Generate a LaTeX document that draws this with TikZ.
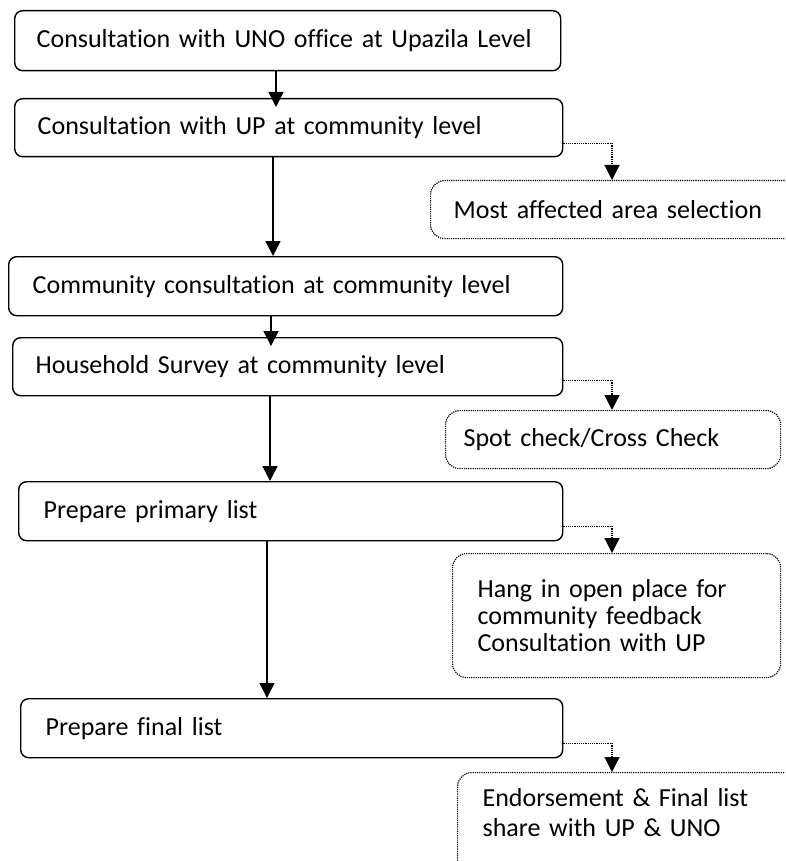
\documentclass[tikz,border=0pt]{standalone}
\usepackage{fontspec}
\setmainfont{Carlito}[Ligatures={NoCommon}]
\usetikzlibrary{calc,positioning,arrows.meta}

\begin{document}
\begin{tikzpicture}[x=1pt,y=-1pt]
\tikzstyle{stepbox}=[draw, line width=1.4pt, rounded corners=8pt, anchor=north west, align=left, inner xsep=23pt, font=\fontsize{26}{27}\selectfont]
\tikzstyle{notebox}=[draw, densely dotted, line width=1.2pt, rounded corners=14pt, anchor=north west, align=left, font=\fontsize{26}{27}\selectfont]
\tikzstyle{flow}=[line width=1.4pt, -{Triangle[length=15pt,width=15pt]}]
\tikzstyle{sideflow}=[densely dotted, line width=1.2pt, -{Triangle[length=15pt,width=15pt]}]
\useasboundingbox (0,0) rectangle (785,861);
\clip (0,0) rectangle (785,861);
% main steps
\node[stepbox, text width=502pt, inner xsep=22pt, minimum height=60pt] (uno) at (14,10) {Consultation with UNO office at Upazila Level};
\node[stepbox, text width=502pt, minimum height=58pt] (up) at (14,98) {Consultation with UP at community level};
\node[stepbox, text width=506pt, inner xsep=24pt, minimum height=59pt] (comm) at (8,256) {Community consultation at community level};
\node[stepbox, text width=504pt, minimum height=58pt] (survey) at (12,337) {Household Survey at community level};
\node[stepbox, text width=494pt, inner xsep=25pt, minimum height=59pt] (primary) at (18,481) {Prepare primary list};
\node[stepbox, text width=492pt, inner xsep=25pt, minimum height=59pt] (final) at (20,698) {Prepare final list};
% side notes
\node[notebox, text width=344pt, inner xsep=23pt, minimum height=58pt] (area) at (430,180) {Most affected area selection};
\node[notebox, text width=299pt, inner xsep=18pt, minimum height=58pt] (spot) at (445,410) {Spot check/Cross Check};
\node[notebox, text width=278pt, inner xsep=25pt, minimum height=124pt] (hang) at (452,553) {Hang in open place for\\community feedback\\Consultation with UP};
\node[notebox, text width=330pt, inner xsep=25pt, inner ysep=16pt, text depth=70pt] (endorse) at (457,772) {Endorsement \& Final list\\[3pt]share with UP \& UNO};
% arrows
\draw[flow, shorten >=-9pt] ($(uno.south west)+(262,0)$) -- ($(up.north west)+(262,0)$);
\draw[flow] ($(up.south west)+(259,0)$) -- ($(comm.north west)+(265,0)$);
\draw[flow, shorten >=-9pt] ($(comm.south west)+(263,0)$) -- ($(survey.north west)+(259,0)$);
\draw[flow] ($(survey.south west)+(258,0)$) -- ($(primary.north west)+(252,0)$);
\draw[flow] ($(primary.south west)+(249,0)$) -- ($(final.north west)+(247,0)$);
\draw[sideflow] ($(up.south east)+(0,-14)$) -| ($(area.north west)+(182,0)$);
\draw[sideflow] ($(survey.south east)+(0,-16)$) -| ($(spot.north west)+(167,0)$);
\draw[sideflow] ($(primary.south east)+(0,-15)$) -| ($(hang.north west)+(160,0)$);
\draw[sideflow] ($(final.south east)+(0,-15)$) -| ($(endorse.north west)+(155,0)$);
\end{tikzpicture}
\end{document}
